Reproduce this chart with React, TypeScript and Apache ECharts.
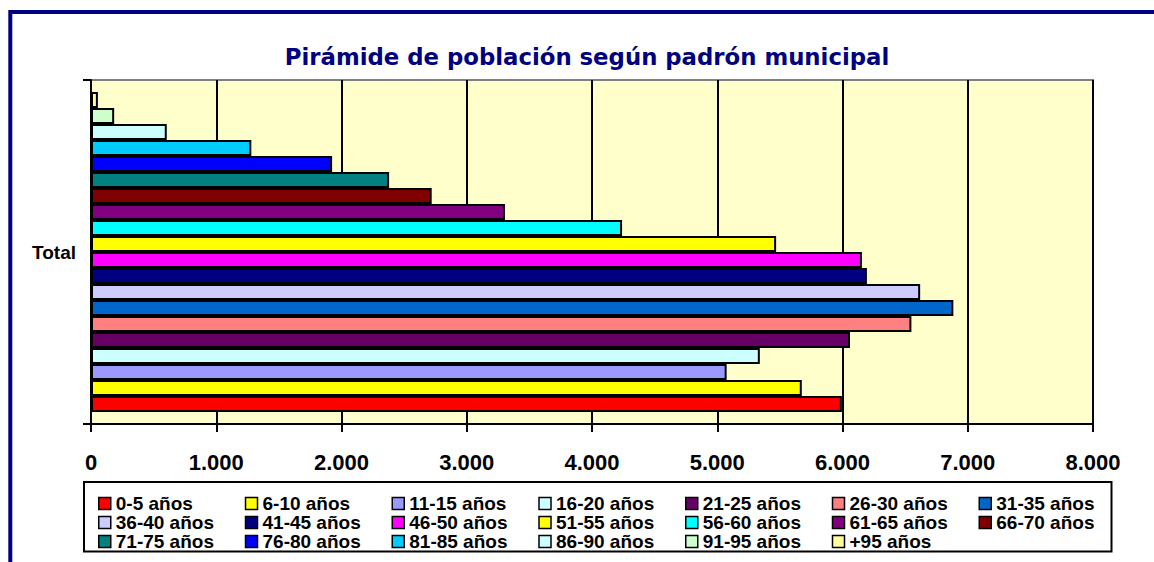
import React, { useEffect, useRef } from "react";
import * as echarts from "echarts";

const TITLE = "Pirámide de población según padrón municipal";
const CATEGORIES = ["Total"];
const AGE_GROUPS = [
  "0-5 años", "6-10 años", "11-15 años", "16-20 años", "21-25 años", "26-30 años", "31-35 años",
  "36-40 años", "41-45 años", "46-50 años", "51-55 años", "56-60 años", "61-65 años", "66-70 años",
  "71-75 años", "76-80 años", "81-85 años", "86-90 años", "91-95 años", "+95 años",
];
const VALUES = [
  5995, 5675, 5075, 5340, 6060, 6550, 6885,
  6620, 6195, 6155, 5470, 4240, 3305, 2720,
  2380, 1925, 1280, 605, 185, 55,
];
const COLORS = [
  "#FF0000", "#FFFF00", "#9999FF", "#CCFFFF", "#660066", "#FF8080", "#0066CC",
  "#CCCCFF", "#000080", "#FF00FF", "#FFFF00", "#00FFFF", "#800080", "#800000",
  "#008080", "#0000FF", "#00CCFF", "#CCFFFF", "#CCFFCC", "#FFFF99",
];
const X_MIN = 0;
const X_MAX = 8000;
const X_STEP = 1000;

const FONT = "'Liberation Sans', Arial, sans-serif";

function fmt(v: number): string {
  return String(v).replace(/\B(?=(\d{3})+(?!\d))/g, ".");
}

export default function App() {
  const ref = useRef<HTMLDivElement>(null);
  useEffect(() => {
    if (!ref.current) return;
    const chart = echarts.init(ref.current, null, { renderer: "svg" });
    // ECharts stacks horizontal bars of a band from the top; the reference has
    // the youngest group at the bottom, so series are added in reverse order.
    const order = AGE_GROUPS.map((_, i) => i).reverse();
    const series = order.map((i) => ({
      type: "bar" as const,
      name: AGE_GROUPS[i],
      data: [VALUES[i]],
      barGap: "0%",
      barCategoryGap: "7%",
      itemStyle: { color: COLORS[i], borderColor: "#000", borderWidth: 2 },
      emphasis: { disabled: true },
    }));
    chart.setOption({
      animation: false,
      backgroundColor: "#FFFFFF",
      title: {
        text: TITLE,
        left: 587,
        textAlign: "center",
        top: 45,
        padding: 0,
        textStyle: {
          fontFamily: "'DejaVu Sans', sans-serif",
          fontWeight: "bold",
          fontSize: 22.8,
          lineHeight: 24,
          color: "#000080",
        },
      },
      legend: {
        data: AGE_GROUPS,
        left: 98,
        top: 494,
        width: 1030,
        padding: 0,
        itemGap: 0,
        itemWidth: 12,
        itemHeight: 12,
        icon: "rect",
        selectedMode: false,
        itemStyle: { borderColor: "#000", borderWidth: 1.5 },
        textStyle: {
          fontFamily: FONT,
          fontWeight: "bold",
          fontSize: 19,
          lineHeight: 19,
          color: "#000",
          width: 129,
        },
      },
      grid: {
        left: 91,
        right: 61,
        top: 80,
        bottom: 138,
        show: true,
        backgroundColor: "#FFFFCC",
        borderColor: "#808080",
        borderWidth: 2,
      },
      xAxis: {
        type: "value",
        min: X_MIN,
        max: X_MAX,
        interval: X_STEP,
        axisLine: { show: true, lineStyle: { color: "#000", width: 2 } },
        axisTick: { show: true, length: 8, lineStyle: { color: "#000", width: 2 } },
        splitLine: { show: true, lineStyle: { color: "#000", width: 2 } },
        axisLabel: {
          margin: 27,
          formatter: (v: number) => fmt(v),
          fontFamily: FONT,
          fontWeight: "bold",
          fontSize: 22,
          color: "#000",
        },
      },
      yAxis: {
        type: "category",
        data: CATEGORIES,
        axisLine: { show: true, lineStyle: { color: "#000", width: 2 } },
        axisTick: { show: true, length: 8, lineStyle: { color: "#000", width: 2 } },
        splitLine: { show: false },
        axisLabel: {
          margin: 15,
          fontFamily: FONT,
          fontWeight: "bold",
          fontSize: 19,
          color: "#000",
        },
      },
      graphic: [
        {
          type: "rect",
          shape: { x: 10.3, y: 12, width: 1400, height: 800 },
          style: { fill: "none", stroke: "#000080", lineWidth: 4 },
          silent: true,
        },
        {
          type: "rect",
          shape: { x: 84, y: 482, width: 1027.5, height: 69.5 },
          style: { fill: "none", stroke: "#000", lineWidth: 2 },
          silent: true,
          z: -1,
        },
      ],
      series,
    });
    return () => chart.dispose();
  }, []);
  return (
    <div
      ref={ref}
      style={{ position: "fixed", left: 0, top: 0, width: 1154, height: 562 }}
    />
  );
}
